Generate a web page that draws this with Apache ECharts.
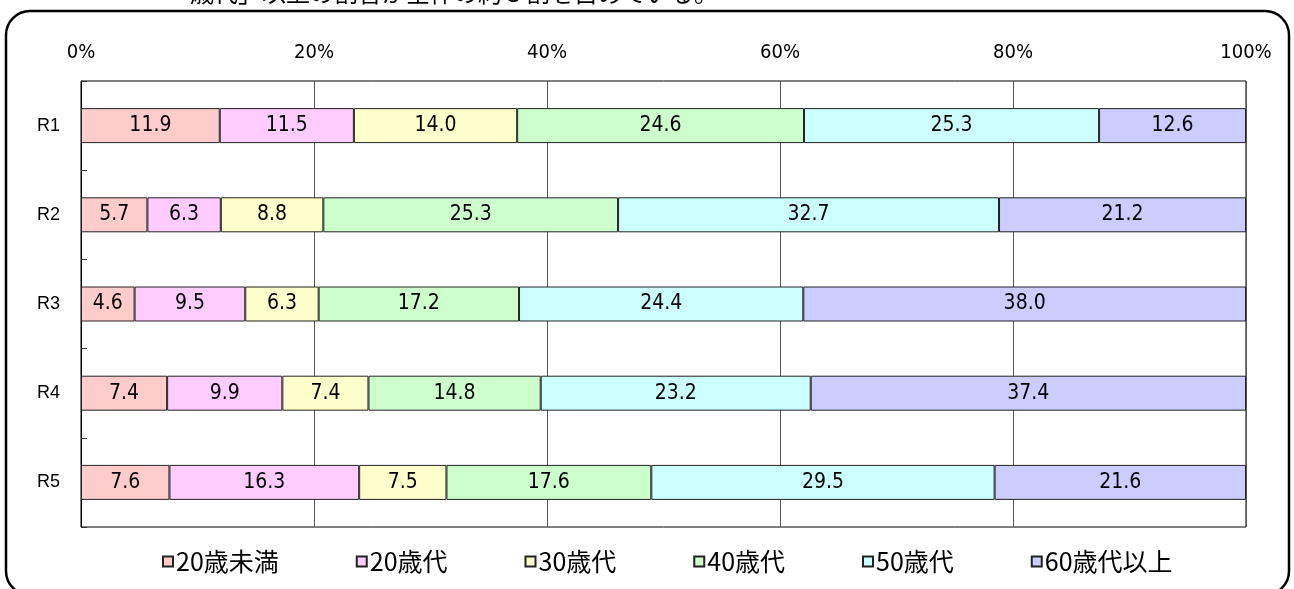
<!DOCTYPE html>
<html>
<head>
<meta charset="utf-8">
<script src="https://cdn.jsdelivr.net/npm/echarts@6/dist/echarts.min.js"></script>
<style>
  html, body { margin: 0; padding: 0; background: #fff; }
  #main { width: 1294px; height: 589px; }
</style>
</head>
<body>
<div id="main"></div>
<script>
// categories (rows, top to bottom) and age groups
const regions = ['R1', 'R2', 'R3', 'R4', 'R5'];
const ageGroups = ['20歳未満', '20歳代', '30歳代', '40歳代', '50歳代', '60歳代以上'];

// percent shares, one array per row
const r1 = [11.9, 11.5, 14.0, 24.6, 25.3, 12.6];
const r2 = [5.7, 6.3, 8.8, 25.3, 32.7, 21.2];
const r3 = [4.6, 9.5, 6.3, 17.2, 24.4, 38.0];
const r4 = [7.4, 9.9, 7.4, 14.8, 23.2, 37.4];
const r5 = [7.6, 16.3, 7.5, 17.6, 29.5, 21.6];

const xTicks = [0, 20, 40, 60, 80, 100];
const colors = ['#FFCCCC', '#FFCCFF', '#FFFFCC', '#CCFFCC', '#CCFFFF', '#CCCCFF'];

const rows = [r1, r2, r3, r4, r5];
const numFont = "'Liberation Sans Narrow', 'DejaVu Sans Condensed', 'Noto Sans CJK JP', sans-serif";
const jpFont = "'Noto Sans CJK JP', sans-serif";

let myChart = echarts.init(document.getElementById('main'));

// 100% stacked: each row is scaled to its own total, label keeps the read value
let series = ageGroups.map(function (name, i) {
	return {
		name: name,
		type: 'bar',
		stack: 'total',
		barWidth: 35,
		itemStyle: {
			color: colors[i],
			borderColor: '#222',
			borderWidth: 1
		},
		label: {
			show: true,
			position: 'inside',
			color: '#000',
			fontSize: 21,
			fontFamily: numFont,
			formatter: function (p) {
				return p.data.raw.toFixed(1);
			}
		},
		data: rows.map(function (row) {
			let sum = row.reduce(function (a, b) { return a + b; }, 0);
			return { value: row[i] / sum * 100, raw: row[i] };
		})
	};
});

const option = {
	backgroundColor: '#fff',
	animation: false,
	grid: {
		left: 81,
		right: 48,
		top: 81,
		bottom: 62,
		show: true,
		borderColor: '#000',
		borderWidth: 1,
		containLabel: false
	},
	legend: {
		left: 157,
		top: 544,
		itemWidth: 10,
		itemHeight: 10,
		itemGap: 77,
		icon: 'rect',
		textStyle: {
			fontSize: 25,
			fontFamily: jpFont,
			color: '#000',
			padding: [0, 0, 0, -2]
		},
		data: ageGroups
	},
	xAxis: {
		type: 'value',
		position: 'top',
		min: xTicks[0],
		max: xTicks[xTicks.length - 1],
		interval: xTicks[1] - xTicks[0],
		axisLine: { show: false },
		axisTick: { show: false },
		axisLabel: {
			margin: 18,
			color: '#000',
			fontSize: 20,
			fontFamily: numFont,
			formatter: '{value}%'
		},
		splitLine: {
			show: true,
			lineStyle: { color: '#555', width: 1 }
		}
	},
	yAxis: {
		type: 'category',
		inverse: true,
		data: regions,
		axisLine: { show: true, lineStyle: { color: '#000' } },
		axisTick: {
			show: true,
			inside: true,
			length: 6,
			lineStyle: { color: '#333' }
		},
		axisLabel: {
			margin: 21,
			color: '#000',
			fontSize: 18,
			fontFamily: "'Liberation Sans', Arial, sans-serif"
		}
	},
	graphic: [
		{
			type: 'rect',
			shape: { x: 6, y: 11, width: 1283, height: 584, r: 24 },
			style: { fill: 'none', stroke: '#000', lineWidth: 2.5 },
			z: 10
		},
		{
			type: 'text',
			left: 190,
			top: -19,
			style: {
				text: '歳代」以上の割合が全体の約５割を占めている。',
				fontSize: 24,
				fontFamily: jpFont,
				fill: '#000'
			}
		}
	],
	series: series
};

myChart.setOption(option);
</script>
</body>
</html>
